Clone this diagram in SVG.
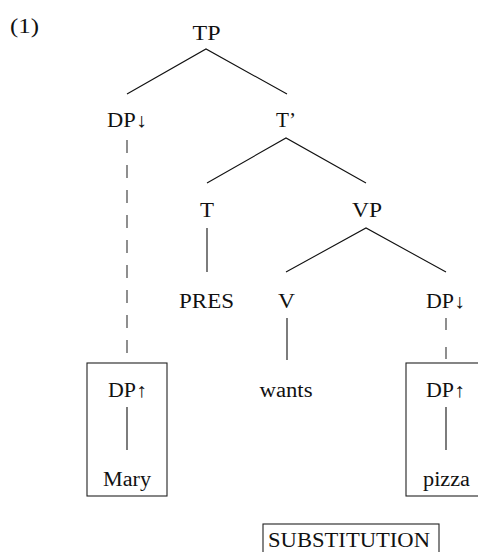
<svg xmlns="http://www.w3.org/2000/svg" width="478" height="552" viewBox="0 0 478 552">
<style>
text{font-family:"Liberation Serif","Times New Roman",serif;font-size:20px;fill:#111;text-anchor:middle}
.e{stroke:#111;stroke-width:1.1;fill:none}
.d{stroke:#333;stroke-width:1.1;fill:none;stroke-dasharray:13 12}
.b{stroke:#222;stroke-width:1.1;fill:none}
</style>
<rect width="478" height="552" fill="#fff"/>
<text x="24.5" y="33" textLength="29" lengthAdjust="spacingAndGlyphs">(1)</text>
<g id="connectors">
<path class="e" d="M127 94 L206 49 L287 94"/>
<path class="e" d="M207 183 L286 138 L366 183"/>
<path class="e" d="M286 272 L366 228 L446 272"/>
<path class="e" d="M207 228 V272"/>
<path class="e" d="M287 318 V360"/>
<path class="d" d="M127 140 V363"/>
<path class="d" d="M446 318 V363" style="stroke-dasharray:12 17"/>
<path class="e" d="M127 407 V450"/>
<path class="e" d="M446 407 V450"/>
</g>
<g id="TP"><text x="206.5" y="40" textLength="28" lengthAdjust="spacingAndGlyphs">TP</text></g>
<g id="DP1"><text x="127" y="127" textLength="40" lengthAdjust="spacingAndGlyphs">DP↓</text></g>
<g id="Tbar"><text x="286" y="127" textLength="20" lengthAdjust="spacingAndGlyphs">T’</text></g>
<g id="T"><text x="207" y="217" textLength="14" lengthAdjust="spacingAndGlyphs">T</text></g>
<g id="VP"><text x="367" y="217" textLength="30" lengthAdjust="spacingAndGlyphs">VP</text></g>
<g id="PRES"><text x="206.5" y="308" textLength="55" lengthAdjust="spacingAndGlyphs">PRES</text></g>
<g id="V"><text x="286.5" y="308" textLength="17" lengthAdjust="spacingAndGlyphs">V</text></g>
<g id="DP2"><text x="445.5" y="308" textLength="39" lengthAdjust="spacingAndGlyphs">DP↓</text></g>
<g id="wants"><text x="286" y="397" textLength="53" lengthAdjust="spacingAndGlyphs">wants</text></g>
<g id="MaryBox">
<rect class="b" x="87" y="363" width="80" height="133"/>
<text x="127.5" y="397" textLength="39" lengthAdjust="spacingAndGlyphs">DP↑</text>
<text x="127" y="486" textLength="48" lengthAdjust="spacingAndGlyphs">Mary</text>
</g>
<g id="PizzaBox">
<rect class="b" x="406" y="363" width="80" height="133"/>
<text x="445.5" y="397" textLength="39" lengthAdjust="spacingAndGlyphs">DP↑</text>
<text x="446.5" y="486" textLength="47" lengthAdjust="spacingAndGlyphs">pizza</text>
</g>
<g id="Substitution">
<rect class="b" x="263" y="524" width="176" height="40"/>
<text x="349" y="547" style="font-size:21px" textLength="162" lengthAdjust="spacingAndGlyphs">SUBSTITUTION</text>
</g>
</svg>
